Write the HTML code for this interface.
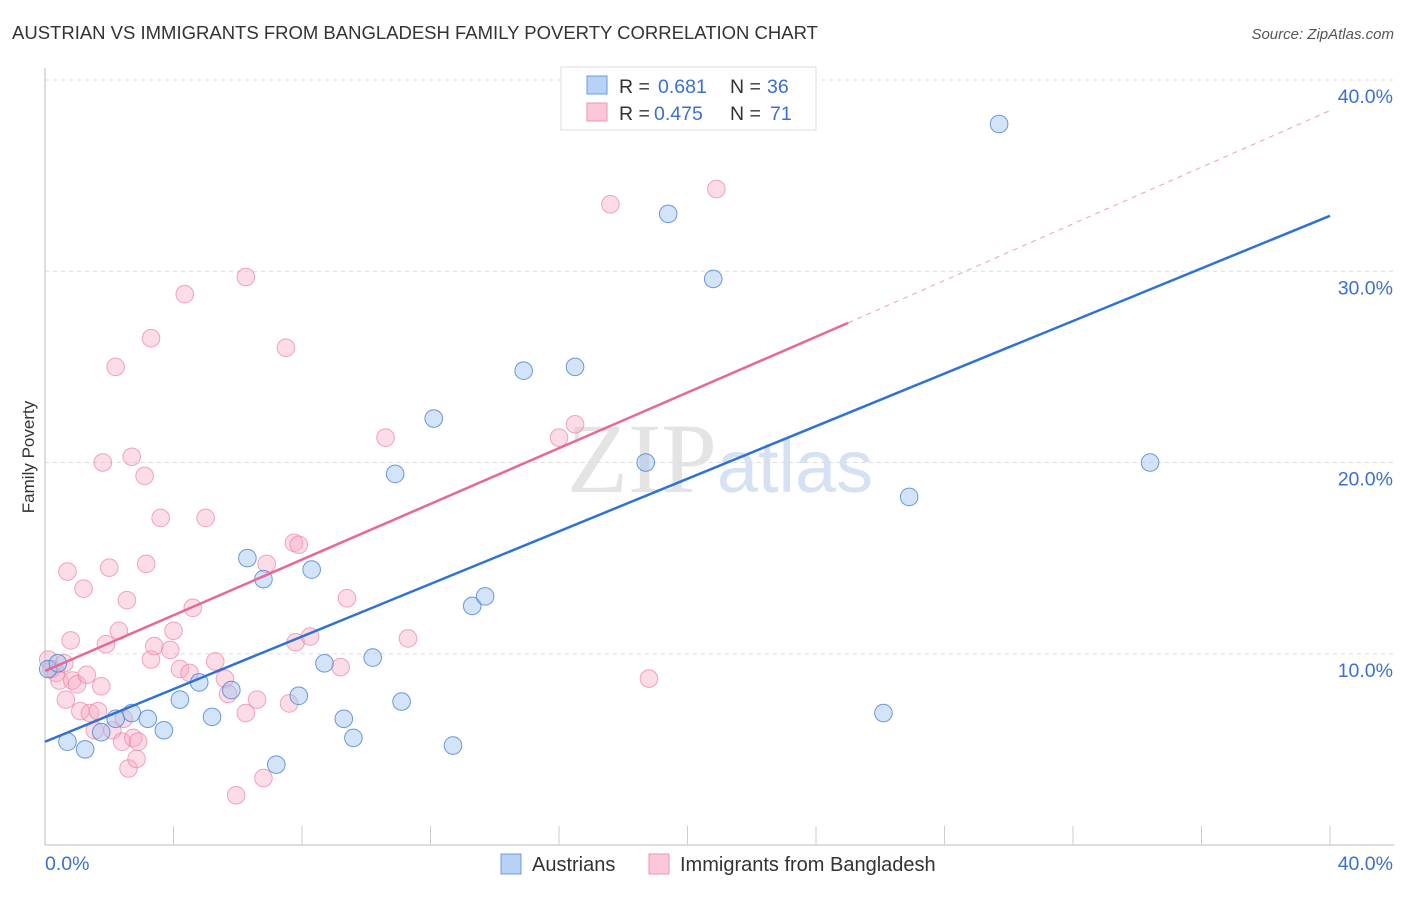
<!DOCTYPE html>
<html><head><meta charset="utf-8"><style>
body{margin:0;background:#fff;font-family:"Liberation Sans",sans-serif}
</style></head><body>
<svg id="chart" width="1406" height="892" xmlns="http://www.w3.org/2000/svg" font-family="Liberation Sans, sans-serif">
<text x="12" y="39" font-size="18.5" fill="#333">AUSTRIAN VS IMMIGRANTS FROM BANGLADESH FAMILY POVERTY CORRELATION CHART</text>
<text x="1394" y="39" font-size="15" fill="#555" font-style="italic" text-anchor="end">Source: ZipAtlas.com</text>
<text x="720" y="492" font-size="100" fill="#e4e4e4" text-anchor="middle" font-family="Liberation Serif, serif">ZIP<tspan fill="#d6e2f3" font-family="Liberation Sans, sans-serif" font-size="74">atlas</tspan></text>
<text transform="translate(34,457) rotate(-90)" font-size="17" fill="#333" text-anchor="middle">Family Poverty</text>
<g id="grid"></g><g id="axes"></g><g id="marks"></g>
<g>
<rect x="561" y="67" width="255" height="63" fill="#fff" stroke="#ddd"/>
<rect x="587" y="76" width="20" height="18" fill="#b8d2f5" stroke="#6d9be0"/>
<rect x="587" y="103" width="20" height="18" fill="#fcc7d6" stroke="#ee94b0"/>
<text x="619" y="93" font-size="19.5" fill="#333">R =</text><text x="658" y="93" font-size="19.5" fill="#3b6fd4">0.681</text>
<text x="730" y="93" font-size="19.5" fill="#333">N =</text><text x="767" y="93" font-size="19.5" fill="#3b6fd4">36</text>
<text x="619" y="120" font-size="19.5" fill="#333">R =</text><text x="654" y="120" font-size="19.5" fill="#3b6fd4">0.475</text>
<text x="730" y="120" font-size="19.5" fill="#333">N =</text><text x="770" y="120" font-size="19.5" fill="#3b6fd4">71</text>
</g>
<g>
<rect x="501" y="854" width="20" height="20" fill="#b8d2f5" stroke="#6d9be0"/>
<text x="532" y="871" font-size="20" fill="#333">Austrians</text>
<rect x="649" y="854" width="20" height="20" fill="#fcc7d6" stroke="#ee94b0"/>
<text x="680" y="871" font-size="20" fill="#333">Immigrants from Bangladesh</text>
</g>
</svg>
<script>
const xTicks=[0,40];
const yTicks=[10,20,30,40];
const blueX=[0.1,0.4,0.7,1.25,1.75,2.2,2.7,3.2,3.7,4.2,4.8,5.2,5.8,6.3,6.8,7.2,7.9,8.3,8.7,9.3,9.6,10.2,10.9,11.1,12.1,12.7,13.3,13.7,14.9,16.5,18.7,19.4,20.8,26.1,26.9,29.7,34.4];
const blueY=[9.2,9.5,5.4,5.0,5.9,6.6,6.9,6.6,6.0,7.6,8.5,6.7,8.1,15.0,13.9,4.2,7.8,14.4,9.5,6.6,5.6,9.8,19.4,7.5,22.3,5.2,12.5,13.0,24.8,25.0,20.0,33.0,29.6,6.9,18.2,37.7,20.0];
const pinkX=[0.1,0.2,0.35,0.45,0.6,0.65,0.7,0.8,0.85,1.0,1.1,1.2,1.3,1.4,1.55,1.65,1.75,1.8,1.9,2.0,2.1,2.2,2.3,2.4,2.45,2.55,2.6,2.7,2.75,2.85,2.9,3.1,3.15,3.3,3.3,3.4,3.6,3.9,4.0,4.2,4.35,4.5,4.6,5.0,5.3,5.6,5.7,5.95,6.25,6.25,6.6,6.8,6.9,7.5,7.6,7.75,7.8,7.9,8.25,9.2,9.4,10.6,11.3,16.0,16.5,17.6,18.8,20.9];
const pinkY=[9.7,9.2,9.0,8.6,9.5,7.6,14.3,10.7,8.6,8.4,7.0,13.4,8.9,6.9,6.0,7.0,8.3,20.0,10.5,14.5,6.0,25.0,11.2,5.4,6.6,12.8,4.0,20.3,5.6,4.5,5.4,19.3,14.7,9.7,26.5,10.4,17.1,10.2,11.2,9.2,28.8,9.0,12.4,17.1,9.6,8.7,7.9,2.6,29.7,6.9,7.6,3.5,14.7,26.0,7.4,15.8,10.6,15.7,10.9,9.3,12.9,21.3,10.8,21.3,22.0,33.5,8.7,34.3];
const blueLine=[0,5.4,40,32.9];
const pinkLine=[0,9.1,25,27.3];
const pinkExt=[25,27.3,40,38.4];
const NS="http://www.w3.org/2000/svg";
const X=v=>45+v/40*1285, Y=v=>845-v/40*765;
function mk(t,a,p){const e=document.createElementNS(NS,t);for(const k in a)e.setAttribute(k,a[k]);document.getElementById(p).appendChild(e);return e;}
yTicks.forEach(t=>{
 const l=mk('line',{x1:45,x2:1394,y1:Y(t),y2:Y(t),stroke:'#ddd','stroke-dasharray':'4,4'},'grid');
 
 
 const tx=mk('text',{x:1393,y:Y(t)+23,'font-size':19.5,fill:'#3b6fd4','text-anchor':'end'},'grid');
 tx.textContent=t.toFixed(1)+'%';
 
 
});
mk('line',{x1:45,x2:45,y1:68,y2:845,stroke:'#bbb'},'axes');
mk('line',{x1:45,x2:1394,y1:845,y2:845,stroke:'#bbb'},'axes');
for(let i=1;i<=10;i++){const x=X(i*4);const t=mk('line',{x1:x,x2:x,y1:826,y2:845,stroke:'#ccc'},'axes');}
xTicks.forEach(t=>{const tx=mk('text',{x:t===0?45:1393,y:870,'font-size':19.5,fill:'#3b6fd4','text-anchor':t===0?'start':'end'},'axes');tx.textContent=t.toFixed(1)+'%';
 
 });
pinkX.forEach((v,i)=>{const c=mk('circle',{cx:X(v),cy:Y(pinkY[i]),r:8.8,fill:'rgba(248,170,195,0.4)',stroke:'rgba(235,130,165,0.7)','stroke-width':1},'marks');
 
 });
blueX.forEach((v,i)=>{const c=mk('circle',{cx:X(v),cy:Y(blueY[i]),r:8.8,fill:'rgba(160,195,240,0.45)',stroke:'rgba(70,130,215,0.8)','stroke-width':1},'marks');
 
 });
let l=mk('line',{x1:X(blueLine[0]),y1:Y(blueLine[1]),x2:X(blueLine[2]),y2:Y(blueLine[3]),stroke:'#2f72d6','stroke-width':2.5},'marks');


l=mk('line',{x1:X(pinkLine[0]),y1:Y(pinkLine[1]),x2:X(pinkLine[2]),y2:Y(pinkLine[3]),stroke:'#e76896','stroke-width':2.5},'marks');


l=mk('line',{x1:X(pinkExt[0]),y1:Y(pinkExt[1]),x2:X(pinkExt[2]),y2:Y(pinkExt[3]),stroke:'#eaa0b8','stroke-width':1,'stroke-dasharray':'5,5'},'marks');


</script>
</body></html>
